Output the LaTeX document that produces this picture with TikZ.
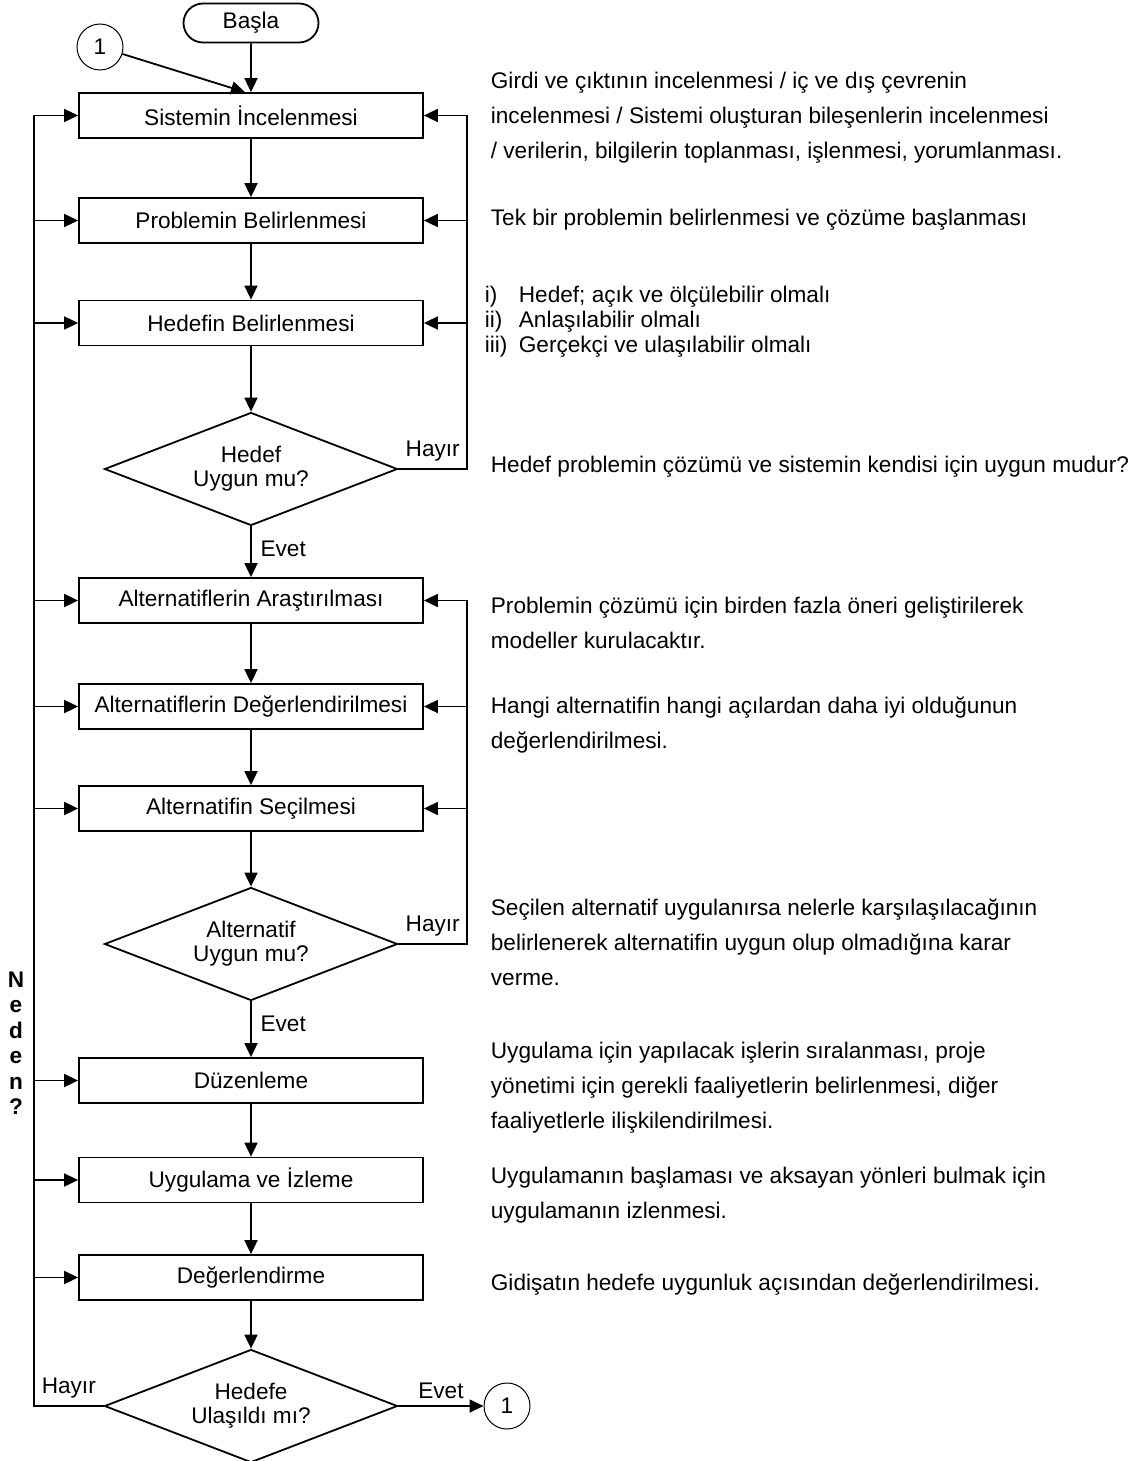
\documentclass[tikz,border=0pt]{standalone}
\usepackage{fontspec}
\setmainfont{Liberation Sans}
\usetikzlibrary{shapes,arrows.meta}
\tikzstyle{block} = [draw, rectangle, minimum height=22.5pt, minimum width=172pt, inner sep=0pt]
\tikzstyle{decision} = [draw, diamond, aspect=2.6, minimum width=146.5pt, minimum height=56.5pt, inner sep=0pt, align=center, font=\fontsize{11.3}{12}\selectfont]
\tikzstyle{terminal} = [draw, rounded rectangle, minimum width=67.5pt, minimum height=19.5pt, inner sep=0pt]
\tikzstyle{connector} = [draw, circle, minimum size=23pt, inner sep=0pt, line width=0.5pt]
\tikzstyle{note} = [anchor=west, align=left, inner sep=0pt, font=\fontsize{11.3}{17.5}\selectfont]

\begin{document}
\begin{tikzpicture}[x=0.5pt, y=-0.5pt, >={Triangle[length=7pt,width=6.5pt]}, line width=0.9pt, font=\fontsize{11.3}{13}\selectfont]
    \useasboundingbox (0,0) rectangle (1144,1461);
    \coordinate (lbus) at (34,0);
    \coordinate (rbus) at (467,0);
    % main column
    \node [terminal] (basla) at (251,23) {Başla};
    \node [connector] (c1) at (100,47) {1};
    \node [block, below of=basla, node distance=46.25pt] (sis) {Sistemin İncelenmesi};
    \node [block, below of=sis, node distance=52.5pt] (prob) {Problemin Belirlenmesi};
    \node [block, below of=prob, node distance=51.25pt] (hed) {Hedefin Belirlenmesi};
    \node [decision, below of=hed, node distance=73pt] (d1) {Hedef\\Uygun mu?};
    \node [block, below of=d1, node distance=65.75pt] (ara) {Alternatiflerin Araştırılması};
    \node [block, below of=ara, node distance=53pt] (deg) {Alternatiflerin Değerlendirilmesi};
    \node [block, below of=deg, node distance=51pt] (sec) {Alternatifin Seçilmesi};
    \node [decision, below of=sec, node distance=67.75pt] (d2) {Alternatif\\Uygun mu?};
    \node [block, below of=d2, node distance=68.25pt] (duz) {Düzenleme};
    \node [block, below of=duz, node distance=49.75pt] (uyg) {Uygulama ve İzleme};
    \node [block, below of=uyg, node distance=48.75pt] (dgr) {Değerlendirme};
    \node [decision, below of=dgr, node distance=64.25pt] (d3) {Hedefe\\Ulaşıldı mı?};
    \node [connector] (c2) at (507,1406) {1};
    \node [font=\bfseries\fontsize{11.3}{12.75}\selectfont, align=center] (neden) at (16,1043) {N\\e\\d\\e\\n\\?};
    % notes
    \node [note] (tgirdi) at (490,117.5) {Girdi ve çıktının incelenmesi / iç ve dış çevrenin\\incelenmesi / Sistemi oluşturan bileşenlerin incelenmesi\\/ verilerin, bilgilerin toplanması, işlenmesi, yorumlanması.};
    \node [note] (ttek) at (490,220) {Tek bir problemin belirlenmesi ve çözüme başlanması};
    \node [note, font=\fontsize{11.3}{12.5}\selectfont] (tlist) at (484,322) {\makebox[17pt][l]{i)}Hedef; açık ve ölçülebilir olmalı\\\makebox[17pt][l]{ii)}Anlaşılabilir olmalı\\\makebox[17pt][l]{iii)}Gerçekçi ve ulaşılabilir olmalı};
    \node [note] (thedef) at (490,467) {Hedef problemin çözümü ve sistemin kendisi için uygun mudur?};
    \node [note] (tprob) at (490,622.5) {Problemin çözümü için birden fazla öneri geliştirilerek\\modeller kurulacaktır.};
    \node [note] (thangi) at (490,725.5) {Hangi alternatifin hangi açılardan daha iyi olduğunun\\değerlendirilmesi.};
    \node [note] (tsecilen) at (490,942) {Seçilen alternatif uygulanırsa nelerle karşılaşılacağının\\belirlenerek alternatifin uygun olup olmadığına karar\\verme.};
    \node [note] (tduz) at (490,1087.5) {Uygulama için yapılacak işlerin sıralanması, proje\\yönetimi için gerekli faaliyetlerin belirlenmesi, diğer\\faaliyetlerle ilişkilendirilmesi.};
    \node [note] (tuyg) at (490,1195) {Uygulamanın başlaması ve aksayan yönleri bulmak için\\uygulamanın izlenmesi.};
    \node [note] (tgid) at (490,1285) {Gidişatın hedefe uygunluk açısından değerlendirilmesi.};
    % flow
    \draw [->] (basla) -- (sis);
    \draw [->] (c1) -- ([xshift=-3pt]sis.north);
    \draw [->] (sis) -- (prob);
    \draw [->] (prob) -- (hed);
    \draw [->] (hed) -- (d1);
    \draw [->] (d1) -- node [right, pos=0.45, xshift=1pt] {Evet} (ara);
    \draw [->] (ara) -- (deg);
    \draw [->] (deg) -- (sec);
    \draw [->] (sec) -- (d2);
    \draw [->] (d2) -- node [right, pos=0.4, xshift=1pt] {Evet} (duz);
    \draw [->] (duz) -- (uyg);
    \draw [->] (uyg) -- (dgr);
    \draw [->] (dgr) -- (d3);
    \draw [->] (d3.east) -- node [above] {Evet} (c2);
    % feedback on the right
    \draw [->] (d1.east) -- node [above] {Hayır} (d1.east -| rbus) |- (sis.east);
    \foreach \n in {prob,hed}
        \draw [->] (\n.east -| rbus) -- (\n.east);
    \draw [->] (d2.east) -- node [above] {Hayır} (d2.east -| rbus) |- (ara.east);
    \foreach \n in {deg,sec}
        \draw [->] (\n.east -| rbus) -- (\n.east);
    % feedback on the left
    \draw [->] (d3.west) -- node [above] {Hayır} (d3.west -| lbus) |- (sis.west);
    \foreach \n in {prob,hed,ara,deg,sec,duz,uyg,dgr}
        \draw [->] (\n.west -| lbus) -- (\n.west);
\end{tikzpicture}
\end{document}
